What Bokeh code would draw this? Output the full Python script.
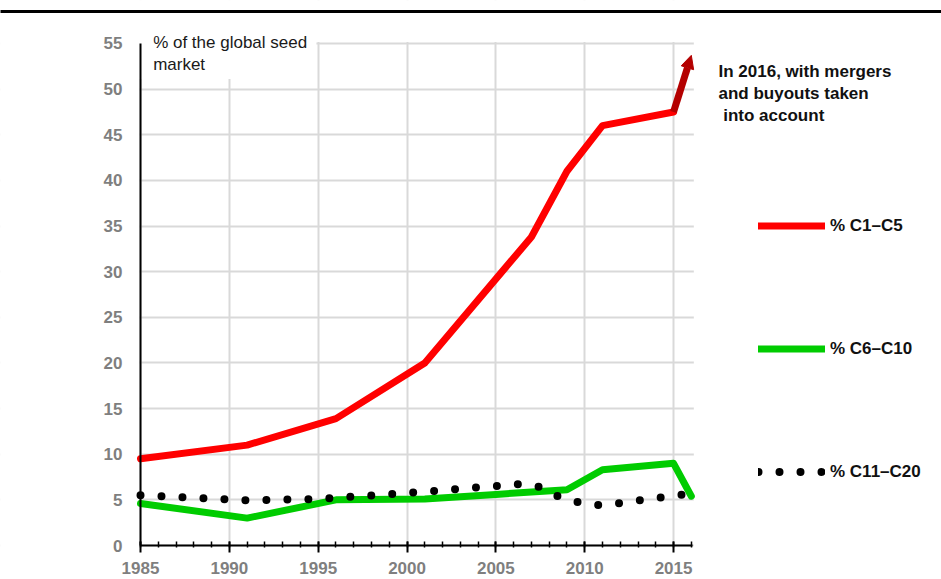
from bokeh.plotting import figure
from bokeh.models import (FixedTicker, Label, Legend, LegendItem, Arrow, NormalHead,
                          BoxAnnotation, Range1d)
from bokeh.embed import file_html
from bokeh.resources import INLINE

# ---- data ----
c1_years = [1985, 1991, 1996, 2001, 2007, 2009, 2011, 2015]
c1_vals = [9.5, 11.0, 13.9, 20.0, 33.8, 41.0, 46.0, 47.5]

merged_years = [2015, 2016]
merged_vals = [47.5, 53.7]

c6_years = [1985, 1991, 1996, 2001, 2005, 2009, 2011, 2015, 2016]
c6_vals = [4.6, 3.0, 5.0, 5.1, 5.6, 6.1, 8.3, 9.0, 5.4]

c11_years = [1985, 1991, 1995, 2000, 2006.5, 2007.5, 2008.5, 2010, 2011, 2016]
c11_vals = [5.5, 4.95, 5.1, 5.75, 6.75, 6.4, 5.4, 4.55, 4.4, 5.7]

x_ticks = [1985, 1990, 1995, 2000, 2005, 2010, 2015]
x_minor = list(range(1985, 2017))
y_ticks = [0, 5, 10, 15, 20, 25, 30, 35, 40, 45, 50, 55]

series_labels = ["% C1\u2013C5", "% C6\u2013C10", "% C11\u2013C20"]
y_title = "% of the global seed\nmarket"
note = "In 2016, with mergers\nand buyouts taken\n\u00a0into account"

FONT = "Liberation Sans"

X0, X1 = 1985, 2016.06      # plotted data area
Y0, Y1 = 0, 55
XL, XR = 1977.12, 2030.08   # full canvas width in data units
YB, YT = -3.725, 59.71      # full canvas height in data units

p = figure(width=941, height=579, x_range=Range1d(XL, XR), y_range=Range1d(YB, YT),
           output_backend="svg", toolbar_location=None,
           min_border_left=0, min_border_right=0, min_border_top=0, min_border_bottom=0)
p.outline_line_color = None
p.background_fill_color = "white"
p.border_fill_color = "white"

# axes
p.xaxis.ticker = FixedTicker(ticks=x_ticks, minor_ticks=x_minor)
p.yaxis.ticker = FixedTicker(ticks=y_ticks)
p.xaxis.bounds = (X0, X1)
p.yaxis.bounds = (Y0, Y1)
p.yaxis.fixed_location = X0
p.xaxis.fixed_location = Y0
for ax in (p.xaxis[0], p.yaxis[0]):
    ax.axis_line_color = "black"
    ax.axis_line_width = 2
    ax.major_label_text_font = FONT
    ax.major_label_text_font_style = "bold"
    ax.major_label_text_font_size = "17px"
    ax.major_label_text_color = "#7f7f7f"
p.xaxis.major_tick_line_color = "black"
p.xaxis.major_tick_line_width = 2
p.xaxis.major_tick_in = 4
p.xaxis.major_tick_out = 7
p.xaxis.minor_tick_line_color = "black"
p.xaxis.minor_tick_line_width = 1.5
p.xaxis.minor_tick_in = 4
p.xaxis.minor_tick_out = 2
p.xaxis.major_label_standoff = 9
p.yaxis.major_tick_line_color = None
p.yaxis.minor_tick_line_color = None
p.yaxis.major_tick_out = 0
p.yaxis.major_tick_in = 0
p.yaxis.minor_tick_out = 0
p.yaxis.minor_tick_in = 0
p.yaxis.major_label_standoff = 18

p.xgrid.grid_line_color = "#d9d9d9"
p.xgrid.grid_line_width = 2
p.ygrid.grid_line_color = "#d9d9d9"
p.ygrid.grid_line_width = 2

# keep the grid inside the plotted area, and clear it behind the axis title
for l, r, b, t in [(X1 + 0.08, XR + 2, YB - 2, YT + 2),
                   (XL - 2, X0 - 0.06, YB - 2, YT + 2),
                   (XL - 2, XR + 2, Y1 + 0.17, YT + 2),
                   (XL - 2, XR + 2, YB - 2, Y0 - 0.12),
                   (XL - 2, 1994.9, 51.1, YT + 2)]:
    p.add_layout(BoxAnnotation(left=l, right=r, bottom=b, top=t,
                               fill_color="white", fill_alpha=1, line_color=None,
                               level="underlay"))

r1 = p.line(c1_years, c1_vals, line_color="#ff0000", line_width=7,
            line_join="round", line_cap="round")
r2 = p.line(c6_years, c6_vals, line_color="#00cc00", line_width=7,
            line_join="round", line_cap="round")
r3 = p.line(c11_years, c11_vals, line_color="black", line_width=8,
            line_dash="0 21", line_cap="round")

p.add_layout(Arrow(x_start=merged_years[0], y_start=merged_vals[0],
                   x_end=merged_years[1], y_end=merged_vals[1],
                   line_color="#b40000", line_width=7,
                   end=NormalHead(size=13, fill_color="#b40000", line_color="#b40000")))

p.add_layout(Label(x=1985.71, y=56.12, text=y_title, text_baseline="top",
                   text_font=FONT, text_font_size="17px", text_color="#1a1a1a",
                   text_line_height=1.17))

p.add_layout(Label(x=2017.53, y=52.95, text=note, text_baseline="top",
                   text_font=FONT, text_font_style="bold", text_font_size="17px",
                   text_color="#111111", text_line_height=1.15))

legend = Legend(items=[LegendItem(label=series_labels[0], renderers=[r1]),
                       LegendItem(label=series_labels[1], renderers=[r2]),
                       LegendItem(label=series_labels[2], renderers=[r3])],
                location=(758, 96), orientation="vertical", spacing=100,
                glyph_width=67, glyph_height=23, label_standoff=5,
                padding=0, margin=0, border_line_color=None,
                background_fill_alpha=0,
                label_text_font=FONT, label_text_font_style="bold",
                label_text_font_size="17px", label_text_color="#111111")
p.add_layout(legend)

# top rule
p.add_layout(BoxAnnotation(left=XL - 1, right=XR + 1, top=58.68, bottom=58.34,
                           fill_color="black", fill_alpha=1, line_color=None,
                           level="overlay"))

open("out.html", "w").write(file_html(p, INLINE))
